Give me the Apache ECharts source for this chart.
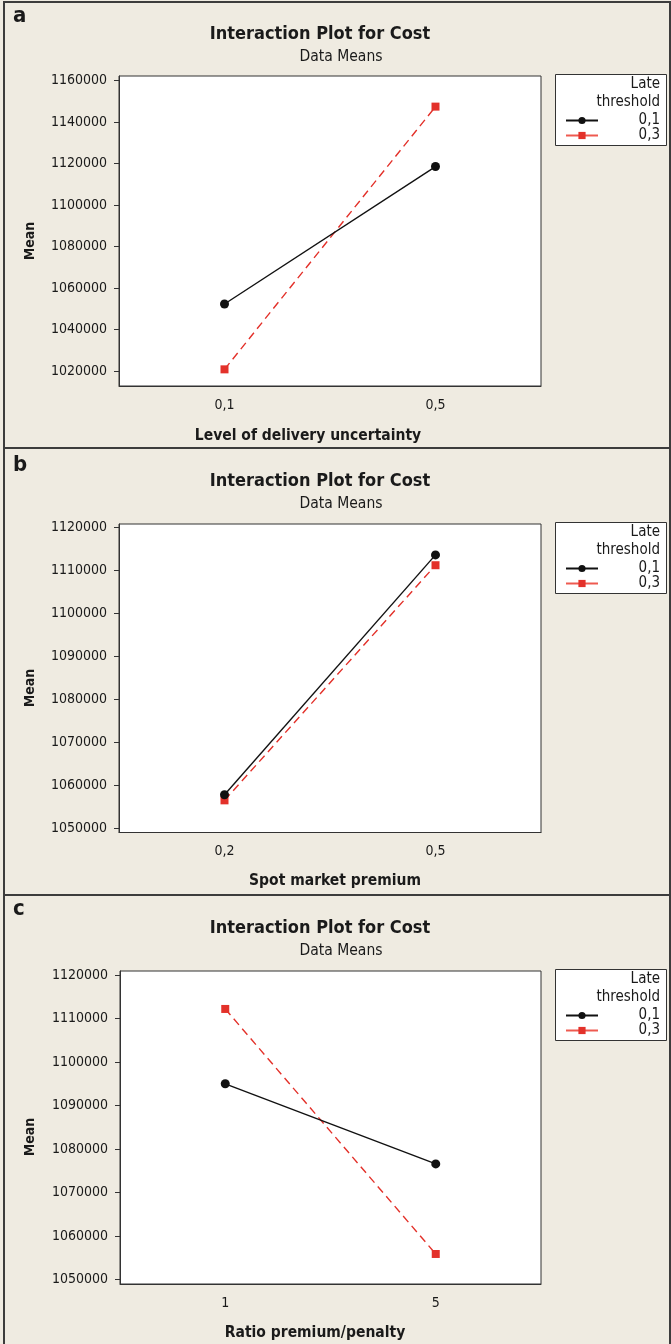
<!DOCTYPE html>
<html>
<head>
<meta charset="utf-8">
<script src="https://cdn.jsdelivr.net/npm/echarts@6/dist/echarts.min.js"></script>
<style>
html,body{margin:0;padding:0;background:#efebe1;}
#chart{width:671px;height:1344px;}
</style>
</head>
<body>
<div id="chart"></div>
<script>
// ---- data ----
const panelLetters = ['a', 'b', 'c'];
const chartTitle = 'Interaction Plot for Cost';
const chartSubtitle = 'Data Means';
const yAxisTitle = 'Mean';
const legendTitle = ['Late', 'threshold'];
const seriesNames = ['0,1', '0,3'];

const catsA = ['0,1', '0,5'];
const catsB = ['0,2', '0,5'];
const catsC = ['1', '5'];
const xTitles = ['Level of delivery uncertainty', 'Spot market premium', 'Ratio premium/penalty'];

const low_A = [1052300, 1118600];   // Late threshold 0,1
const high_A = [1020800, 1147500];  // Late threshold 0,3
const low_B = [1057800, 1113600];
const high_B = [1056500, 1111200];
const low_C = [1095000, 1076600];
const high_C = [1112200, 1055900];

const yTicksA = [1020000, 1040000, 1060000, 1080000, 1100000, 1120000, 1140000, 1160000];
const yTicksB = [1050000, 1060000, 1070000, 1080000, 1090000, 1100000, 1110000, 1120000];
const yTicksC = [1050000, 1060000, 1070000, 1080000, 1090000, 1100000, 1110000, 1120000];

// ---- layout ----
const F = "'DejaVu Sans Condensed','DejaVu Sans',sans-serif";
const INK = '#1a1a1a';
const BLACK = '#111111';
const RED = '#e3312a';

const panels = [
  {top: 76, bottom: 386, left: 119, right: 541, ymin: 1012770, ymax: 1162270, ticks: yTicksA, cats: catsA,
   lo: low_A, hi: high_A, xt: 308, xtY: 436, letterY: 27, titleY: 34, subY: 57, meanY: 241, legTop: 74},
  {top: 524, bottom: 832.5, left: 119, right: 541, ymin: 1049020, ymax: 1120790, ticks: yTicksB, cats: catsB,
   lo: low_B, hi: high_B, xt: 335, xtY: 881, letterY: 476, titleY: 481, subY: 504, meanY: 688, legTop: 522},
  {top: 971, bottom: 1284, left: 120, right: 541, ymin: 1049000, ymax: 1120920, ticks: yTicksC, cats: catsC,
   lo: low_C, hi: high_C, xt: 315, xtY: 1333, letterY: 920, titleY: 928, subY: 951, meanY: 1137, legTop: 969}
];

const grids = [], xAxes = [], yAxes = [], series = [], legends = [], graphics = [];

panels.forEach((p, i) => {
  grids.push({left: p.left, top: p.top, width: p.right - p.left, height: p.bottom - p.top,
    show: true, backgroundColor: '#ffffff', borderColor: '#333', borderWidth: 1});
  xAxes.push({type: 'category', gridIndex: i, data: p.cats, boundaryGap: true,
    axisLine: {lineStyle: {color: '#333', width: 1}},
    axisTick: {alignWithLabel: true, length: 5, lineStyle: {color: '#333'}},
    axisLabel: {color: INK, fontFamily: F, fontSize: 14, margin: 12},
    splitLine: {show: false}});
  yAxes.push({type: 'value', gridIndex: i, min: p.ymin, max: p.ymax, scale: true,
    axisLine: {show: true, lineStyle: {color: '#333', width: 1}},
    axisTick: {show: true, length: 5, customValues: p.ticks, lineStyle: {color: '#333'}},
    axisLabel: {color: INK, fontFamily: F, fontSize: 14, margin: 12, customValues: p.ticks,
      formatter: v => String(Math.round(v))},
    splitLine: {show: false}});
  series.push({name: seriesNames[0], type: 'line', xAxisIndex: i, yAxisIndex: i, data: p.lo,
    symbol: 'circle', symbolSize: 9, itemStyle: {color: BLACK},
    lineStyle: {color: BLACK, width: 1.4, type: 'solid'}, z: 3});
  series.push({name: seriesNames[1], type: 'line', xAxisIndex: i, yAxisIndex: i, data: p.hi,
    symbol: 'rect', symbolSize: 8, itemStyle: {color: RED},
    lineStyle: {color: RED, width: 1.4, type: [8, 5]}, z: 2});

  legends.push({orient: 'vertical', left: 560, top: p.legTop + 34, itemWidth: 32, itemHeight: 9, itemGap: 0,
    data: [{name: seriesNames[0]}, {name: seriesNames[1], lineStyle: {type: 'solid', color: '#ee5a50'}}],
    selectedMode: false,
    formatter: '{r|{name}}',
    textStyle: {color: INK, fontFamily: F, fontSize: 15, lineHeight: 14.5,
      rich: {r: {width: 57, align: 'right', fontFamily: F, fontSize: 15, color: INK}}}});

  // legend box
  graphics.push({type: 'rect', shape: {x: 555.5, y: p.legTop + 0.5, width: 111, height: 71},
    style: {fill: '#ffffff', stroke: '#333', lineWidth: 1}, z: 0});
  graphics.push({type: 'text', x: 660, y: p.legTop + 10, z: 5,
    style: {text: legendTitle[0], fill: INK, font: '15px ' + F, textAlign: 'right', textVerticalAlign: 'middle'}});
  graphics.push({type: 'text', x: 660, y: p.legTop + 28, z: 5,
    style: {text: legendTitle[1], fill: INK, font: '15px ' + F, textAlign: 'right', textVerticalAlign: 'middle'}});

  // panel letter
  graphics.push({type: 'text', x: 13, y: p.letterY, z: 5,
    style: {text: panelLetters[i], fill: INK, font: 'bold 22px ' + F, textAlign: 'left', textVerticalAlign: 'bottom'}});
  // titles
  graphics.push({type: 'text', x: 320, y: p.titleY, z: 5,
    style: {text: chartTitle, fill: INK, font: 'bold 18px ' + F, textAlign: 'center', textVerticalAlign: 'middle'}});
  graphics.push({type: 'text', x: 341, y: p.subY, z: 5,
    style: {text: chartSubtitle, fill: INK, font: '15.5px ' + F, textAlign: 'center', textVerticalAlign: 'middle'}});
  // y axis title
  graphics.push({type: 'text', x: 30, y: p.meanY, rotation: Math.PI / 2, z: 5,
    style: {text: yAxisTitle, fill: INK, font: 'bold 14px ' + F, textAlign: 'center', textVerticalAlign: 'middle'}});
  // x axis title
  graphics.push({type: 'text', x: p.xt, y: p.xtY, z: 5,
    style: {text: xTitles[i], fill: INK, font: 'bold 15.5px ' + F, textAlign: 'center', textVerticalAlign: 'middle'}});
});

// panel frames
const frameStyle = {stroke: '#3c3c3c', lineWidth: 2};
graphics.push({type: 'line', shape: {x1: 4, y1: 2, x2: 670, y2: 2}, style: frameStyle, z: 6});
graphics.push({type: 'line', shape: {x1: 4, y1: 1, x2: 4, y2: 1344}, style: frameStyle, z: 6});
graphics.push({type: 'line', shape: {x1: 670, y1: 1, x2: 670, y2: 1344}, style: frameStyle, z: 6});
graphics.push({type: 'line', shape: {x1: 4, y1: 448, x2: 670, y2: 448}, style: frameStyle, z: 6});
graphics.push({type: 'line', shape: {x1: 4, y1: 895, x2: 670, y2: 895}, style: frameStyle, z: 6});

const chart = echarts.init(document.getElementById('chart'), null, {renderer: 'canvas'});
chart.setOption({
  backgroundColor: '#efebe1',
  animation: false,
  grid: grids,
  xAxis: xAxes,
  yAxis: yAxes,
  legend: legends,
  series: series,
  graphic: {elements: graphics}
});
</script>
</body>
</html>
